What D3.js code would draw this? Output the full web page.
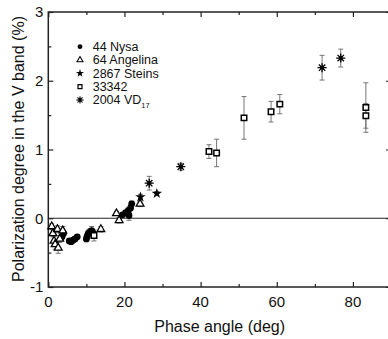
<!DOCTYPE html>
<html>
<head>
<meta charset="utf-8">
<script src="https://cdn.jsdelivr.net/npm/d3@7"></script>
<style>
	body { margin: 0; background: #fff; }
	svg text { font-family: "Liberation Sans", Arial, sans-serif; fill: #111; }
	.axis path { display: none; }
	.axis line { stroke: #222; stroke-width: 1.2; }
</style>
</head>
<body>
<div id="chart"></div>
<script>

/*
Data: [phase angle (deg), polarization (%), error (%)]
*/
var nysa = [
	[3.6, -0.27, 0.03], [4.0, -0.22, 0.04], [5.5, -0.33, 0.03], [6.0, -0.34, 0.03],
	[6.5, -0.32, 0.03], [7.0, -0.30, 0.03], [7.6, -0.27, 0.03], [10.0, -0.30, 0.04],
	[10.2, -0.26, 0.04], [10.5, -0.22, 0.05], [11.0, -0.20, 0.05], [11.4, -0.18, 0.06],
	[11.8, -0.22, 0.04], [19.5, 0.05, 0.03], [20.3, 0.08, 0.03], [21.0, 0.11, 0.04],
	[21.2, 0.04, 0.07], [21.6, 0.15, 0.04], [21.9, 0.21, 0.04]
];
var angelina = [
	[0.9, -0.12, 0.04], [1.2, -0.22, 0.05], [1.5, -0.33, 0.06], [1.8, -0.38, 0.07],
	[2.4, -0.16, 0.05], [2.6, -0.43, 0.08], [3.0, -0.30, 0.05], [3.8, -0.18, 0.06],
	[13.8, -0.16, 0.04], [17.9, 0.07, 0.03], [18.6, -0.03, 0.04], [24.1, 0.21, 0.04]
];
var steins = [
	[24.2, 0.31, 0.04], [28.5, 0.36, 0.03]
];
var wb24 = [
	[12.0, -0.25, 0.08], [42.2, 0.97, 0.10], [44.2, 0.95, 0.20], [51.4, 1.46, 0.31],
	[58.5, 1.55, 0.15], [60.8, 1.66, 0.14], [83.4, 1.61, 0.36], [83.4, 1.49, 0.18]
];
var vd17 = [
	[26.5, 0.51, 0.10], [34.8, 0.75, 0.05], [71.9, 2.19, 0.18], [76.8, 2.33, 0.13]
];

var legendNames = ["44 Nysa", "64 Angelina", "2867 Steins", "33342", "2004 VD"];

var xMajorTicks = [0, 20, 40, 60, 80];
var xMinorTicks = [10, 30, 50, 70];
var yMajorTicks = [-1, 0, 1, 2, 3];
var yMinorTicks = [-0.5, 0.5, 1.5, 2.5];

/*
Accessors
*/
function phase(d) { return d[0]; }
function pol(d) { return d[1]; }
function err(d) { return d[2]; }

/*
Custom 8-armed asterisk with a small solid core
*/
var symbolAster = {
	draw: function(context, size) {
		var r = Math.sqrt(size) * 0.72;
		for (var i = 0; i < 4; i++) {
			var a = i * Math.PI / 4;
			context.moveTo(-r * Math.cos(a), -r * Math.sin(a));
			context.lineTo(r * Math.cos(a), r * Math.sin(a));
		}
		var c = r * 0.35;
		context.moveTo(c, 0);
		context.arc(0, 0, c, 0, 2 * Math.PI);
	}
};

/*
Marker styles per series
*/
var series = [
	{ data: nysa, type: d3.symbolCircle, size: 36, fill: "#000", stroke: "none", sw: 0 },
	{ data: angelina, type: d3.symbolTriangle, size: 26, fill: "#fff", stroke: "#000", sw: 1.3 },
	{ data: steins, type: d3.symbolStar, size: 34, fill: "#000", stroke: "none", sw: 0 },
	{ data: wb24, type: d3.symbolSquare, size: 30, fill: "#fff", stroke: "#000", sw: 1.5 },
	{ data: vd17, type: symbolAster, size: 40, fill: "#000", stroke: "#000", sw: 1.3 }
];

/*
Sizes
*/
var margin = { top: 12, left: 48.3 },
	width = 342.7,
	height = 275;

var svg = d3.select("#chart").append("svg")
	.attr("width", 388)
	.attr("height", 339)
	.append("g")
		.attr("transform", "translate(" + margin.left + "," + margin.top + ")");

var xScale = d3.scaleLinear().domain([0, 90]).range([0, width]);
var yScale = d3.scaleLinear().domain([-1, 3]).range([height, 0]);

/*
Axes, ticks pointing inward on all four sides
*/
svg.append("g").attr("class", "axis")
	.attr("transform", "translate(0," + height + ")")
	.call(d3.axisBottom(xScale).tickValues(xMajorTicks).tickSize(-5).tickFormat(""));
svg.append("g").attr("class", "axis")
	.attr("transform", "translate(0," + height + ")")
	.call(d3.axisBottom(xScale).tickValues(xMinorTicks).tickSize(-3).tickFormat(""));
svg.append("g").attr("class", "axis")
	.call(d3.axisTop(xScale).tickValues(xMajorTicks).tickSize(-5).tickFormat(""));
svg.append("g").attr("class", "axis")
	.call(d3.axisTop(xScale).tickValues(xMinorTicks).tickSize(-3).tickFormat(""));

svg.append("g").attr("class", "axis")
	.call(d3.axisLeft(yScale).tickValues(yMajorTicks).tickSize(-5).tickFormat(""));
svg.append("g").attr("class", "axis")
	.call(d3.axisLeft(yScale).tickValues(yMinorTicks).tickSize(-3).tickFormat(""));
svg.append("g").attr("class", "axis")
	.attr("transform", "translate(" + width + ",0)")
	.call(d3.axisRight(yScale).tickValues(yMajorTicks).tickSize(-5).tickFormat(""));
svg.append("g").attr("class", "axis")
	.attr("transform", "translate(" + width + ",0)")
	.call(d3.axisRight(yScale).tickValues(yMinorTicks).tickSize(-3).tickFormat(""));

// Tick labels
svg.append("g").selectAll("text")
	.data(xMajorTicks)
	.enter().append("text")
		.attr("x", function(d) { return xScale(d); })
		.attr("y", height + 19.5)
		.attr("text-anchor", "middle")
		.style("font-size", "15px")
		.text(function(d) { return d; });

svg.append("g").selectAll("text")
	.data(yMajorTicks)
	.enter().append("text")
		.attr("x", -5)
		.attr("y", function(d) { return yScale(d); })
		.attr("dy", "0.36em")
		.attr("text-anchor", "end")
		.style("font-size", "15px")
		.text(function(d) { return d; });

// Frame
svg.append("rect")
	.attr("width", width)
	.attr("height", height)
	.attr("fill", "none")
	.attr("stroke", "#222")
	.attr("stroke-width", 1.5);

// Zero line
svg.append("line")
	.attr("x1", 0)
	.attr("x2", width)
	.attr("y1", yScale(0))
	.attr("y2", yScale(0))
	.attr("stroke", "#222")
	.attr("stroke-width", 1.2);

/*
Axis titles
*/
svg.append("text")
	.attr("x", width / 2)
	.attr("y", 319.7)
	.attr("text-anchor", "middle")
	.style("font-size", "16px")
	.text("Phase angle (deg)");

svg.append("text")
	.attr("transform", "translate(" + (24 - margin.left) + "," + (149 - margin.top) + ") rotate(-90)")
	.attr("text-anchor", "middle")
	.style("font-size", "16px")
	.text("Polarization degree in the V band (%)");

/*
Error bars and markers
*/
series.forEach(function(s) {
	var g = svg.append("g");
	var bars = g.selectAll("g.err").data(s.data).enter().append("g")
		.attr("stroke", "#666")
		.attr("stroke-width", 0.9);
	bars.append("line")
		.attr("x1", function(d) { return xScale(phase(d)); })
		.attr("x2", function(d) { return xScale(phase(d)); })
		.attr("y1", function(d) { return yScale(pol(d) - err(d)); })
		.attr("y2", function(d) { return yScale(pol(d) + err(d)); });
	[-1, 1].forEach(function(sign) {
		bars.append("line")
			.attr("x1", function(d) { return xScale(phase(d)) - 2.5; })
			.attr("x2", function(d) { return xScale(phase(d)) + 2.5; })
			.attr("y1", function(d) { return yScale(pol(d) + sign * err(d)); })
			.attr("y2", function(d) { return yScale(pol(d) + sign * err(d)); });
	});
});

series.forEach(function(s) {
	svg.append("g").selectAll("path")
		.data(s.data)
		.enter().append("path")
			.attr("transform", function(d) {
				return "translate(" + xScale(phase(d)) + "," + yScale(pol(d)) + ")";
			})
			.attr("d", d3.symbol().type(s.type).size(s.size))
			.attr("fill", s.fill)
			.attr("stroke", s.stroke)
			.attr("stroke-width", s.sw);
});

/*
Legend
*/
var legend = svg.append("g")
	.attr("transform", "translate(" + (80 - margin.left) + "," + (46.7 - margin.top) + ")");

var legendSizes = [18, 16, 20, 16, 26];

legendNames.forEach(function(name, i) {
	var s = series[i];
	var row = legend.append("g").attr("transform", "translate(0," + (i * 13.3) + ")");
	row.append("path")
		.attr("d", d3.symbol().type(s.type).size(legendSizes[i]))
		.attr("fill", s.fill)
		.attr("stroke", s.stroke)
		.attr("stroke-width", s.sw ? s.sw * 0.8 : 0);
	var t = row.append("text")
		.attr("x", 12.7)
		.attr("y", 4.3)
		.style("font-size", "12.5px")
		.text(name);
	if (i === 4) {
		t.append("tspan")
			.attr("dy", 3.5)
			.style("font-size", "7.5px")
			.text("17");
	}
});

</script>
</body>
</html>
